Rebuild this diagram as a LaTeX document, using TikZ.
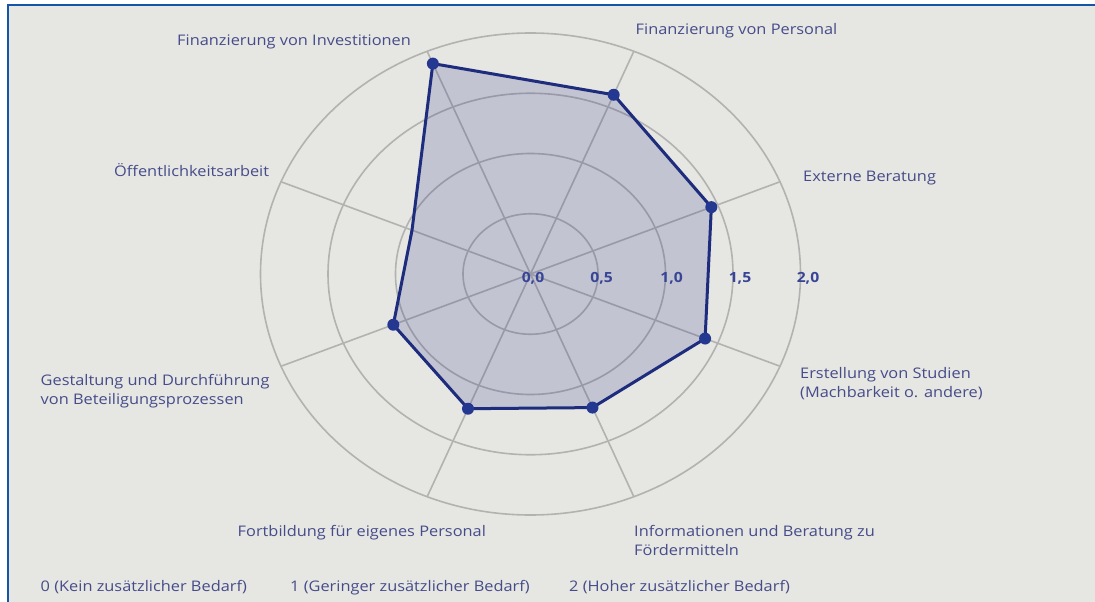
\documentclass[tikz,border=0pt]{standalone}
\usepackage{fontspec}
\setmainfont{Open Sans}
\definecolor{bg}{RGB}{230,230,226}
\definecolor{framec}{RGB}{22,84,168}
\definecolor{gridc}{RGB}{178,178,176}
\definecolor{navy}{RGB}{30,44,125}
\definecolor{dotc}{RGB}{36,56,146}
\definecolor{fillc}{RGB}{40,50,140}
\definecolor{txt}{RGB}{70,76,138}
\definecolor{numc}{RGB}{56,68,150}
\tikzset{
  gridline/.style={draw=gridc, line width=1.6pt},
  lab/.style={font=\fontsize{14.6}{17}\selectfont, text=txt, inner sep=0pt, anchor=base west, xscale=1.12, transform shape},
  numlab/.style={font=\bfseries\fontsize{14}{16}\selectfont, text=numc, inner sep=0pt, anchor=base, xscale=1.12, transform shape},
  datadot/.style={circle, fill=dotc, inner sep=0pt, minimum size=12pt},
  radar/.style={fill=fillc, fill opacity=0.19, draw=navy, line width=3pt, line join=round}
}
\begin{document}
\begin{tikzpicture}[x=1pt,y=-1pt]
\useasboundingbox (0,0) rectangle (1095,602);
\fill[white] (0,0) rectangle (1095,602);
\fill[bg] (8,5) rectangle (1095,602);
\draw[framec, line width=2.2pt] (8,602) -- (8,5) -- (1095,5);

\coordinate (c) at (530.5,274);
% rings
\foreach \r in {1,2,3,4}
  \draw[gridline] (c) ellipse [x radius={67.5pt*\r}, y radius={60.25pt*\r}];
\begin{scope}[shift={(c)}, x={(135pt,0pt)}, y={(0pt,120.5pt)}]
  \foreach \a [count=\i] in {112.5,67.5,22.5,-22.5,-67.5,-112.5,-157.5,157.5}
    \coordinate (s\i) at (\a:2);
  \foreach \a/\v [count=\i] in {112.5/1.89,67.5/1.61,22.5/1.45,-22.5/1.40,-67.5/1.20,-112.5/1.21,-157.5/1.10,157.5/0.95}
    \coordinate (p\i) at (\a:\v);
\end{scope}
\foreach \i in {1,...,8} \draw[gridline] (c) -- (s\i);

\filldraw[radar] (p1) -- (p2) -- (p3) -- (p4) -- (p5) -- (p6) -- (p7) -- (p8) -- cycle;
\foreach \i in {1,...,7} \node[datadot] (d\i) at (p\i) {};

\node[numlab] (n0) at (533,282) {0,0};
\node[numlab] (n1) at (601.7,282) {0,5};
\node[numlab] (n2) at (671.7,282) {1,0};
\node[numlab] (n3) at (740,282) {1,5};
\node[numlab] (n4) at (808,282) {2,0};

\node[lab] (l1) at (177,46) {Finanzierung von Investitionen};
\node[lab] (l2) at (635.5,35) {Finanzierung von Personal};
\node[lab] (l3) at (803,181) {Externe Beratung};
\node[lab] (l4a) at (800,378.5) {Erstellung von Studien};
\node[lab] (l4b) at (800,397.5) {(Machbarkeit o. andere)};
\node[lab] (l5a) at (634,536.5) {Informationen und Beratung zu};
\node[lab] (l5b) at (634,555.5) {Fördermitteln};
\node[lab] (l6) at (237.5,536.5) {Fortbildung für eigenes Personal};
\node[lab] (l7a) at (40.5,385) {Gestaltung und Durchführung};
\node[lab] (l7b) at (40.5,404) {von Beteiligungsprozessen};
\node[lab] (l8) at (114,176) {Öffentlichkeitsarbeit};

\node[lab] (g0) at (40.5,591) {0 (Kein zusätzlicher Bedarf)};
\node[lab] (g1) at (290,591) {1 (Geringer zusätzlicher Bedarf)};
\node[lab] (g2) at (569,591) {2 (Hoher zusätzlicher Bedarf)};
\end{tikzpicture}
\end{document}
